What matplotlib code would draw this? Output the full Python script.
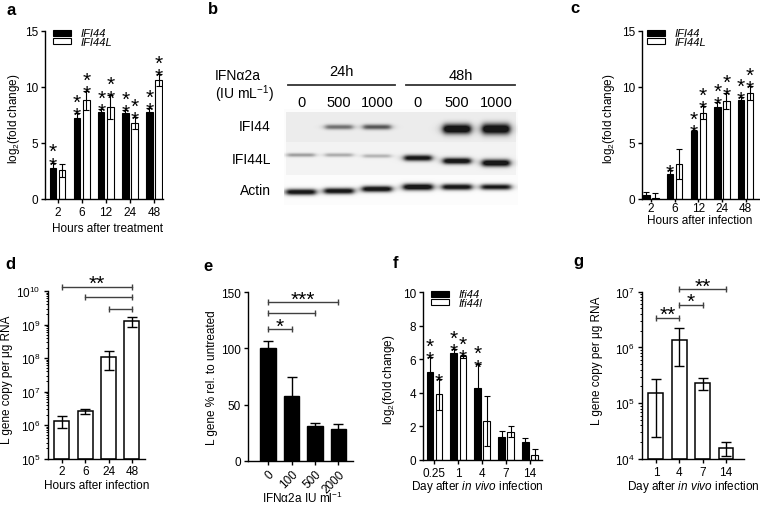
import matplotlib
matplotlib.use('Agg')
import matplotlib.pyplot as plt
from matplotlib.ticker import LogLocator, NullFormatter
import numpy as np

plt.rcParams['font.family'] = ['Liberation Sans', 'DejaVu Sans']
plt.rcParams['mathtext.fontset'] = 'custom'
plt.rcParams['mathtext.rm'] = 'Liberation Sans'
plt.rcParams['mathtext.it'] = 'Liberation Sans:italic'
plt.rcParams['mathtext.bf'] = 'Liberation Sans:bold'
plt.rcParams['axes.linewidth'] = 1.0

# ---- data -------------------------------------------------------------
# a: IFN treatment, log2 fold change
hours_a = ['2', '6', '12', '24', '48']
a_ifi44 = [2.8, 7.2, 7.75, 7.7, 7.8]
a_ifi44_err = [0.45, 0.45, 0.3, 0.27, 0.35]
a_ifi44l = [2.55, 8.8, 8.2, 6.8, 10.65]
a_ifi44l_err = [0.6, 0.85, 1.05, 0.52, 0.52]
a_stars_44 = ['**', '**', '**', '**', '**']
a_stars_44l = ['', '**', '**', '**', '**']

# b: western blot band intensities (0 = none, 1 = saturated)
blot_doses = ['0', '500', '1000', '0', '500', '1000']
blot_times = ['24h', '48h']
band_ifi44 = [0.0, 0.45, 0.55, 0.0, 1.0, 1.0]
band_ifi44l = [0.3, 0.25, 0.22, 0.85, 0.9, 0.95]
band_actin = [0.85, 0.85, 0.88, 0.92, 0.85, 0.8]

# c: infection, log2 fold change
hours_c = ['2', '6', '12', '24', '48']
c_ifi44 = [0.4, 2.2, 6.03, 8.2, 8.87]
c_ifi44_err = [0.2, 0.43, 0.1, 0.48, 0.25]
c_ifi44l = [0.05, 3.13, 7.7, 8.75, 9.46]
c_ifi44l_err = [0.45, 1.3, 0.57, 0.72, 0.62]
c_stars_44 = ['', '*', '**', '**', '**']
c_stars_44l = ['', '', '**', '**', '**']

# d: L gene copies after infection
hours_d = ['2', '6', '24', '48']
d_copies = [1.35e6, 2.55e6, 1.05e8, 1.23e9]
d_err = [0.55e6, 0.45e6, 0.6e8, 0.4e9]
d_brackets = [(0, 3, 10 ** 10.13, '**'), (1, 3, 10 ** 9.81, ''), (2, 3, 10 ** 9.46, '')]

# e: L gene % relative to untreated
doses_e = ['0', '100', '500', '2000']
e_pct = [100, 58, 31, 28]
e_err = [7, 17, 2.5, 4.5]
e_brackets = [(0, 1, 117, '*'), (0, 2, 132, ''), (0, 3, 141, '***')]

# f: in vivo, log2 fold change
days_f = ['0.25', '1', '4', '7', '14']
f_ifi44 = [5.22, 6.38, 4.27, 1.37, 1.05]
f_ifi44_err = [0.9, 0.24, 1.42, 0.38, 0.24]
f_ifi44l = [3.9, 6.18, 2.33, 1.69, 0.32]
f_ifi44l_err = [0.92, 0.08, 1.47, 0.33, 0.33]
f_stars_44 = ['**', '**', '**', '', '']
f_stars_44l = ['*', '**', '', '', '']

# g: in vivo L gene copies
days_g = ['1', '4', '7', '14']
g_copies = [1.5e5, 1.37e6, 2.3e5, 1.6e4]
g_err = [1.25e5, 0.9e6, 0.55e5, 0.45e4]
g_brackets = [(0, 1, 10 ** 6.53, '**'), (1, 2, 10 ** 6.76, '*'), (1, 3, 10 ** 7.04, '**')]

# ---- layout helpers (pixel coordinates of the 760x510 canvas) --------
W, H = 760, 510
STAR = 15
fig = plt.figure(figsize=(W / 100, H / 100), dpi=100)


def place(left, top, right, bottom):
    return fig.add_axes([left / W, 1 - bottom / H, (right - left) / W, (bottom - top) / H])


def style(ax):
    ax.spines[['top', 'right']].set_visible(False)
    ax.tick_params(direction='out', length=3, width=1, labelsize=8.5, pad=2)


def labels(ax, xlabel, xpos, ylabel, ypos):
    ax.set_xlabel(xlabel, fontsize=8.5)
    ax.set_ylabel(ylabel, fontsize=8.5)
    ax.xaxis.set_label_coords(xpos[0] / W, 1 - xpos[1] / H, transform=fig.transFigure)
    ax.yaxis.set_label_coords(ypos[0] / W, 1 - ypos[1] / H, transform=fig.transFigure)
    ax.xaxis.label.set_va('center')
    ax.yaxis.label.set_va('center')


def stars_above(ax, x, y, s):
    # GraphPad style: asterisks stacked vertically above the error bar
    if s:
        ax.annotate('\n'.join(s), (x, y), xytext=(0, -8.6), textcoords='offset points',
                    ha='center', va='bottom', fontsize=STAR, linespacing=0.62,
                    annotation_clip=False)


def grouped(ax, v1, e1, v2, e2, s1, s2, names, legend_anchor):
    x = np.arange(len(v1))
    off, w = 0.19, 0.27
    ax.bar(x - off, v1, w, color='black', edgecolor='black', lw=0.8, label=names[0])
    ax.bar(x + off, v2, w, color='white', edgecolor='black', lw=0.8, label=names[1])
    ax.errorbar(x - off, v1, yerr=e1, fmt='none', ecolor='black', elinewidth=0.8, capsize=2, capthick=0.8)
    ax.errorbar(x + off, v2, yerr=e2, fmt='none', ecolor='black', elinewidth=0.8, capsize=2, capthick=0.8)
    for i in range(len(v1)):
        stars_above(ax, x[i] - off, v1[i] + e1[i], s1[i])
        stars_above(ax, x[i] + off, v2[i] + e2[i], s2[i])
    ax.set_xticks(x)
    ax.legend(loc='upper left', bbox_to_anchor=legend_anchor, frameon=False,
              prop={'style': 'italic', 'size': 8}, handlelength=1.6, handleheight=0.45,
              handletextpad=0.85, labelspacing=-0.1, borderpad=0, borderaxespad=0)


def brackets(ax, items):
    for i0, i1, y, s in items:
        ax.plot([i0, i1], [y, y], color='0.25', lw=1, marker='|', markersize=5,
                markeredgewidth=1, clip_on=False)
        if s:
            ax.annotate(s, ((i0 + i1) / 2, y), xytext=(0, -1.5), textcoords='offset points',
                        ha='center', va='baseline', fontsize=STAR, annotation_clip=False)


# ---- panel a ----------------------------------------------------------
ax = place(45, 32, 163, 200)
style(ax)
grouped(ax, a_ifi44, a_ifi44_err, a_ifi44l, a_ifi44l_err, a_stars_44, a_stars_44l,
        ['IFI44', 'IFI44L'], (0.068, 1.015))
ax.set_xticklabels(hours_a)
ax.set_xlim(-0.52, 4.37)
ax.set_ylim(0, 15)
ax.set_yticks([0, 5, 10, 15])
labels(ax, 'Hours after treatment', (107, 229), 'log$_2$(fold change)', (14, 119))

# ---- panel b (western blot) --------------------------------------------
axb = place(190, 0, 520, 250)
axb.axis('off')
lane_x = [301, 339, 377, 418, 457, 496]
gx = np.arange(284, 518) + 0.5
gy = np.arange(110, 206) + 0.5
X, Y = np.meshgrid(gx, gy)
bg = np.full(X.shape, 0.985)
bg[(Y >= 113) & (Y < 143) & (X >= 286) & (X < 516)] = 0.925
bg[(Y >= 143) & (Y < 176) & (X >= 286) & (X < 516)] = 0.95
dark = np.zeros(X.shape)
rows = [(band_ifi44, [128, 128, 128, 130, 130, 130], [1.8, 1.8, 1.9, 3.6, 3.6, 3.9], 14),
        (band_ifi44l, [156, 156, 157, 159, 162, 164], [1.4, 1.4, 1.4, 2.2, 2.3, 2.6], 14),
        (band_actin, [193, 192, 190, 188, 188, 188], [2.2, 2.2, 2.2, 2.4, 2.2, 2.1], 15)]
for inten, yc, sy, hw in rows:
    for k in range(len(lane_x)):
        prof_y = np.exp(-0.5 * ((Y - yc[k]) / sy[k]) ** 2)
        prof_x = 1 / (1 + ((X - lane_x[k]) / hw) ** 8)
        dark += inten[k] * prof_y * prof_x
img = bg * (1 - 0.9 * np.clip(dark * 1.3, 0, 1))
axb.imshow(img, cmap='gray', vmin=0, vmax=1, extent=(284, 518, 206, 110),
           interpolation='bilinear', aspect='auto')
axb.set_xlim(190, 520)
axb.set_ylim(250, 0)
axb.text(208, 14, 'b', fontsize=12, fontweight='bold', va='baseline')
axb.text(215, 76, 'IFN\u03b12a', fontsize=10, va='center')
axb.text(215, 94, '(IU mL$^{-1}$)', fontsize=10, va='center')
for t, (x0, x1, ty) in zip(blot_times, [(288, 395, 72), (406, 515, 76)]):
    axb.plot([x0, x1], [86, 86], color='#333333', lw=1.3)
    axb.text((x0 + x1) / 2, ty, t, fontsize=10.5, ha='center', va='center')
for x, d in zip(lane_x, blot_doses):
    axb.text(x, 103, d, fontsize=10.5, ha='center', va='center')
for name, y in [('IFI44', 127), ('IFI44L', 160), ('Actin', 191)]:
    axb.text(271, y, name, fontsize=10, ha='right', va='center')

# ---- panel c ----------------------------------------------------------
ax = place(642, 32, 760, 200)
style(ax)
grouped(ax, c_ifi44, c_ifi44_err, c_ifi44l, c_ifi44l_err, c_stars_44, c_stars_44l,
        ['IFI44', 'IFI44L'], (0.042, 1.015))
ax.set_xticklabels(hours_c)
ax.tick_params(axis='x', length=2, pad=0.5)
ax.set_xlim(-0.38, 4.61)
ax.set_ylim(0, 15)
ax.set_yticks([0, 5, 10, 15])
labels(ax, 'Hours after infection', (700, 221), 'log$_2$(fold change)', (609, 119))

# ---- panel d ----------------------------------------------------------
ax = place(47.5, 292, 145, 459.5)
style(ax)
x = np.arange(len(d_copies))
ax.set_yscale('log')
ax.bar(x, np.array(d_copies) - 1e5, 0.64, bottom=1e5, color='white', edgecolor='black', lw=1.1)
ax.errorbar(x, d_copies, yerr=d_err, fmt='none', ecolor='black', elinewidth=1, capsize=3.5, capthick=1)
ax.set_ylim(1e5, 1e10)
ax.yaxis.set_minor_locator(LogLocator(base=10, subs=np.arange(2, 10), numticks=20))
ax.yaxis.set_minor_formatter(NullFormatter())
ax.tick_params(which='minor', length=1.8, width=0.7)
ax.set_xticks(x)
ax.set_xticklabels(hours_d)
ax.set_xlim(-0.62, 3.56)
brackets(ax, d_brackets)
labels(ax, 'Hours after infection', (97, 486), 'L gene copy per \u03bcg RNA', (7, 380))

# ---- panel e ----------------------------------------------------------
ax = place(248, 293.3, 353.3, 461.7)
style(ax)
x = np.arange(len(e_pct))
ax.bar(x, e_pct, 0.66, color='black', edgecolor='black', lw=1)
ax.errorbar(x, e_pct, yerr=e_err, fmt='none', ecolor='black', elinewidth=1, capsize=3.5, capthick=1)
ax.set_ylim(0, 150)
ax.set_yticks([0, 50, 100, 150])
ax.set_xticks(x)
ax.set_xticklabels(doses_e, rotation=45, ha='right', va='top', rotation_mode='anchor')
ax.set_xlim(-0.86, 3.64)
brackets(ax, e_brackets)
labels(ax, 'IFN\u03b12a IU ml$^{-1}$', (302, 498), 'L gene % rel. to untreated', (212, 378))

# ---- panel f ----------------------------------------------------------
ax = place(423.3, 293, 541.7, 461)
style(ax)
grouped(ax, f_ifi44, f_ifi44_err, f_ifi44l, f_ifi44l_err, f_stars_44, f_stars_44l,
        ['Ifi44', 'Ifi44l'], (0.065, 1.015))
ax.set_xticklabels(days_f)
ax.set_xlim(-0.46, 4.49)
ax.set_ylim(0, 10)
ax.set_yticks([0, 2, 4, 6, 8, 10])
labels(ax, 'Day after $\\it{in\\ vivo}$ infection', (477, 487), 'log$_2$(fold change)', (389, 380))

# ---- panel g ----------------------------------------------------------
ax = place(641.7, 292.7, 744, 460)
style(ax)
x = np.arange(len(g_copies))
ax.set_yscale('log')
ax.bar(x, np.array(g_copies) - 1e4, 0.64, bottom=1e4, color='white', edgecolor='black', lw=1.1)
ax.errorbar(x, g_copies, yerr=g_err, fmt='none', ecolor='black', elinewidth=1, capsize=3.5, capthick=1)
ax.set_ylim(1e4, 1e7)
ax.yaxis.set_minor_locator(LogLocator(base=10, subs=np.arange(2, 10), numticks=20))
ax.yaxis.set_minor_formatter(NullFormatter())
ax.tick_params(which='minor', length=1.8, width=0.7)
ax.set_xticks(x)
ax.set_xticklabels(days_g)
ax.set_xlim(-0.61, 3.77)
brackets(ax, g_brackets)
labels(ax, 'Day after $\\it{in\\ vivo}$ infection', (693, 487), 'L gene copy per \u03bcg RNA', (597, 361))

# ---- panel letters ----------------------------------------------------
for letter, (px, py) in {'a': (7, 15), 'c': (570, 13), 'd': (5, 269), 'e': (203, 271),
                         'f': (393, 268), 'g': (573, 266)}.items():
    fig.text(px / W, 1 - py / H, letter, fontsize=12, fontweight='bold', va='baseline')

fig.savefig('out.png', dpi=100)
